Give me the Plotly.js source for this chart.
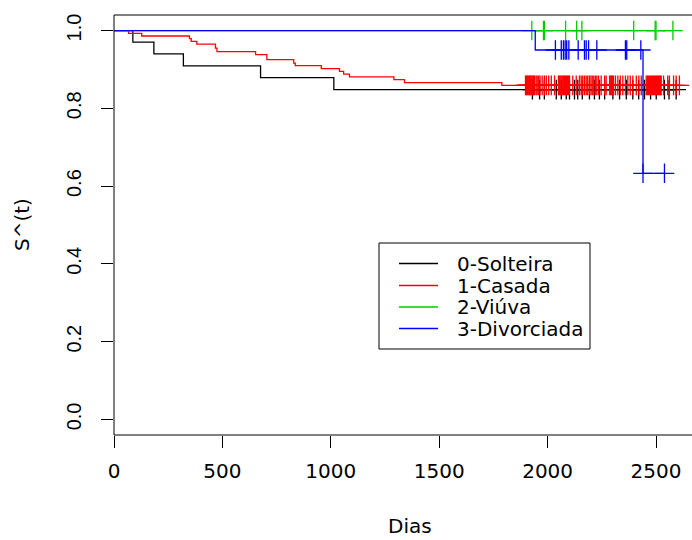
<!DOCTYPE html>
<html><head><meta charset="utf-8">
<script src="https://cdn.plot.ly/plotly-3.0.1.min.js"></script>
<style>html,body{margin:0;padding:0;background:#fff}</style>
</head><body><div id="chart" style="width:692px;height:540px"></div>
<script>
// ---- data ----
const groupNames = ['0-Solteira', '1-Casada', '2-Viúva', '3-Divorciada'];
const groupColors = ['#000000', '#FF0000', '#00CD00', '#0000FF'];

const solteiraEventTimes = [87, 184, 320, 676, 1014];
const solteiraSurv = [0.970, 0.940, 0.909, 0.879, 0.848];
const solteiraCensorTimes = [1930, 1963, 1985, 2040, 2063, 2086, 2101, 2124, 2139, 2160, 2193, 2216, 2239,
  2263, 2301, 2332, 2363, 2393, 2420, 2447, 2475, 2501, 2539, 2560, 2593];

const casadaEventTimes = [67, 128, 348, 356, 382, 468, 475, 653, 705, 829, 836, 956, 1040, 1059, 1086, 1291, 1340, 1789];
const casadaSurv = [0.993, 0.986, 0.979, 0.972, 0.965, 0.955, 0.946, 0.938, 0.925, 0.916, 0.910, 0.902, 0.895, 0.888, 0.881, 0.874, 0.866, 0.859];
const casadaCensorTimes = [1898, 1902, 1906, 1909, 1913, 1917, 1920, 1924, 1928, 1932, 1935, 1940, 1947, 1952, 1959, 1965,
  1975, 1985, 1994, 2005, 2017, 2032, 2050, 2054, 2058, 2062, 2066, 2070, 2074, 2078, 2083, 2087, 2092, 2096, 2101,
  2116, 2132, 2147, 2155, 2162, 2170, 2178, 2185, 2193, 2200, 2206, 2213, 2220, 2227, 2235, 2247, 2263, 2270,
  2286, 2291, 2295, 2300, 2304, 2313, 2324, 2335, 2347, 2359, 2370, 2381, 2393, 2409, 2421, 2432,
  2455, 2460, 2465, 2470, 2475, 2480, 2484, 2489, 2493, 2498, 2502, 2507, 2511, 2516, 2520, 2524,
  2535, 2554, 2562, 2581, 2593, 2608];

const viuvaEventTimes = [];
const viuvaSurv = [];
const viuvaCensorTimes = [1927, 1981, 1985, 2083, 2134, 2158, 2397, 2496, 2500, 2578];

const divorciadaEventTimes = [1943, 2440];
const divorciadaSurv = [0.950, 0.633];
const divorciadaCensorTimes = [2036, 2063, 2073, 2081, 2088, 2098, 2141, 2170, 2178, 2189, 2227, 2359, 2365, 2430, 2440, 2539];

const xTickVals = [0, 500, 1000, 1500, 2000, 2500];
const yTickVals = [0, 0.2, 0.4, 0.6, 0.8, 1.0];
const yTickText = ['0.0', '0.2', '0.4', '0.6', '0.8', '1.0'];
const xTitle = 'Dias';
const yTitle = 'S^(t)';

// ---- build traces ----
const groups = [
  [solteiraEventTimes, solteiraSurv, solteiraCensorTimes],
  [casadaEventTimes, casadaSurv, casadaCensorTimes],
  [viuvaEventTimes, viuvaSurv, viuvaCensorTimes],
  [divorciadaEventTimes, divorciadaSurv, divorciadaCensorTimes]
];

function survAt(ev, s, t) {
  let v = 1;
  for (let i = 0; i < ev.length; i++) { if (ev[i] <= t) v = s[i]; }
  return v;
}

const traces = [];
groups.forEach(function (g, i) {
  const ev = g[0], s = g[1], cz = g[2];
  const lastT = Math.max.apply(null, cz.concat(ev));
  const xs = [0].concat(ev, [lastT]);
  const ys = [1].concat(s, [survAt(ev, s, lastT)]);
  traces.push({
    x: xs, y: ys, type: 'scatter', mode: 'lines', name: groupNames[i],
    line: {color: groupColors[i], width: 1.3, shape: 'hv'}, hoverinfo: 'skip', showlegend: false
  });
  traces.push({
    x: cz, y: cz.map(function (t) { return survAt(ev, s, t); }), type: 'scatter', mode: 'markers',
    marker: {symbol: 'cross-thin', size: 14, color: groupColors[i], line: {color: groupColors[i], width: 1.3}},
    hoverinfo: 'skip', showlegend: false, cliponaxis: false
  });
});

// ---- layout helpers (pixel -> paper) ----
const W = 692, H = 540, ML = 114, MR = 0, MT = 15, MB = 105;
const PW = W - ML - MR, PH = H - MT - MB;
function px(x) { return (x - ML) / PW; }
function py(y) { return (H - MB - y) / PH; }

const shapes = [
  {type: 'rect', xref: 'paper', yref: 'paper', x0: 0, x1: 1.2, y0: 0, y1: 1, line: {color: '#000', width: 1}},
  {type: 'rect', xref: 'paper', yref: 'paper', x0: px(379), x1: px(590), y0: py(349), y1: py(243),
   line: {color: '#000', width: 1}, fillcolor: 'rgba(0,0,0,0)'}
];
const annotations = [];
const legRows = [263.5, 285.5, 307, 328.5];
groupNames.forEach(function (n, i) {
  shapes.push({type: 'line', xref: 'paper', yref: 'paper', x0: px(399), x1: px(438), y0: py(legRows[i]), y1: py(legRows[i]),
    line: {color: groupColors[i], width: 1.3}});
  annotations.push({xref: 'paper', yref: 'paper', x: px(455), y: py(legRows[i]), xanchor: 'left', yanchor: 'middle',
    text: n, showarrow: false, font: {family: 'DejaVu Sans', size: 20, color: '#000'}});
});
annotations.push({xref: 'paper', yref: 'paper', x: px(410), y: py(526), xanchor: 'center', yanchor: 'middle',
  text: xTitle, showarrow: false, font: {family: 'DejaVu Sans', size: 20, color: '#000'}});
annotations.push({xref: 'paper', yref: 'paper', x: px(22), y: py(225), xanchor: 'center', yanchor: 'middle',
  text: yTitle, textangle: -90, showarrow: false, font: {family: 'DejaVu Sans', size: 20, color: '#000'}});

const layout = {
  width: W, height: H,
  margin: {l: ML, r: MR, t: MT, b: MB, pad: 0},
  paper_bgcolor: '#fff', plot_bgcolor: '#fff',
  showlegend: false,
  xaxis: {range: [0, 2666], tickvals: xTickVals, ticks: 'outside', ticklen: 12, tickwidth: 1, tickcolor: '#000',
    showline: false, showgrid: false, zeroline: false, ticklabelstandoff: 6,
    tickfont: {family: 'DejaVu Sans', size: 20, color: '#000'}},
  yaxis: {range: [-0.04, 1.04], tickvals: yTickVals, ticktext: yTickText, tickangle: -90, ticks: 'outside',
    ticklen: 12, tickwidth: 1, tickcolor: '#000', showline: false, showgrid: false, zeroline: false,
    ticklabelstandoff: 12, tickfont: {family: 'Liberation Sans', size: 20, color: '#000'}},
  shapes: shapes,
  annotations: annotations
};

Plotly.newPlot('chart', traces, layout, {displayModeBar: false, staticPlot: true});
</script>
</body></html>
